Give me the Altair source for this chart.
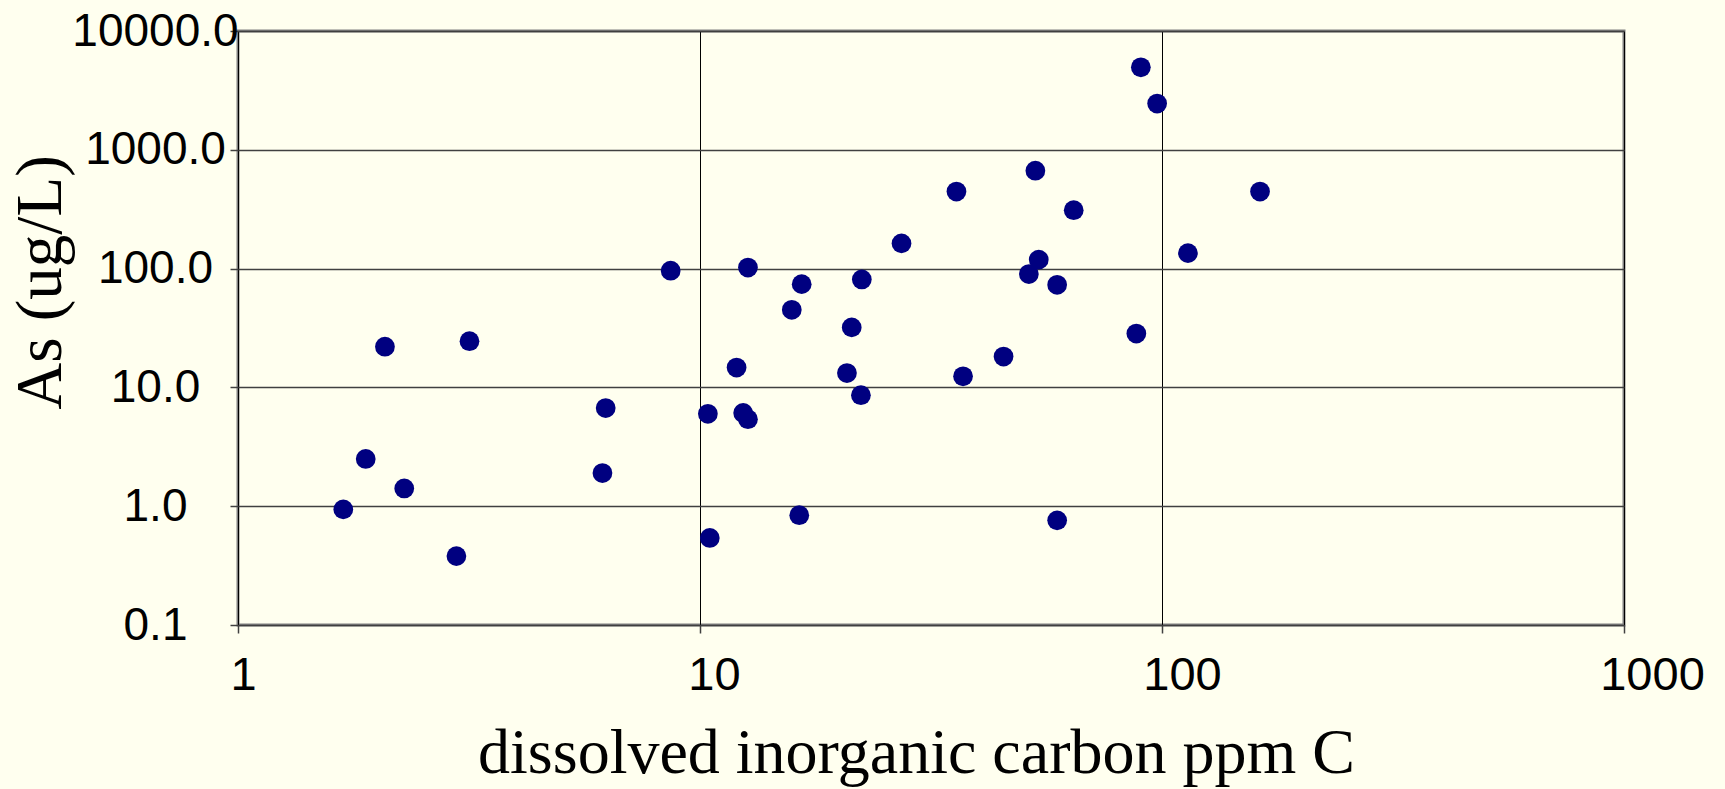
import altair as alt
import pandas as pd

dic = [1.69, 1.89, 2.08, 2.29, 2.97, 3.17, 6.15, 6.25, 8.64, 10.4, 10.5, 12.0, 12.4, 12.7,
       12.7, 15.8, 16.4, 16.6, 20.8, 21.3, 22.3, 22.4, 27.3, 35.9, 37.1, 45.4, 51.5, 53.2,
       54.1, 59.3, 59.3, 64.4, 88.0, 90.0, 97.6, 113.8, 163.0]
arsenic = [0.94, 2.5, 22, 1.41, 0.38, 24.5, 1.9, 6.7, 96, 6.0, 0.54, 14.7, 6.1, 5.4,
           102, 45, 0.84, 74, 13.2, 32, 8.6, 81, 163, 445, 12.4, 18.2, 90, 667,
           119, 0.76, 73, 310, 28.4, 4950, 2450, 135, 445]

x_ticks = [1, 10, 100, 1000]
y_ticks = [0.1, 1, 10, 100, 1000, 10000]

df = pd.DataFrame({"dic": dic, "as": arsenic})

x_label_offset = {
    "condition": [
        {"test": "datum.value == 1", "value": 5},
        {"test": "datum.value == 10", "value": 14},
        {"test": "datum.value == 100", "value": 20},
    ],
    "value": 28,
}

chart = alt.Chart(df).mark_circle(size=390, color="#000080", opacity=1).encode(
    x=alt.X("dic:Q",
            scale=alt.Scale(type="log", domain=[1, 1000], nice=False),
            axis=alt.Axis(values=x_ticks, format="d",
                          title="dissolved inorganic carbon ppm C",
                          titleFont="Liberation Serif", titleFontSize=64,
                          titleFontWeight="normal", titleColor="black",
                          titleBaseline="alphabetic", titleX=678, titleY=147,
                          labelFont="Liberation Sans", labelFontSize=47,
                          labelColor="black", labelPadding=19, labelFlush=False,
                          labelOverlap=False, labelOffset=x_label_offset,
                          tickSize=8, tickColor="#404040", tickWidth=1.5,
                          domain=False, grid=True, gridColor="#000000",
                          gridWidth=1)),
    y=alt.Y("as:Q",
            scale=alt.Scale(type="log", domain=[0.1, 10000], nice=False),
            axis=alt.Axis(values=y_ticks, format=".1f",
                          title="As (ug/L)",
                          titleFont="Liberation Serif", titleFontSize=65,
                          titleFontWeight="normal", titleColor="black",
                          titleBaseline="alphabetic", titleAngle=-90,
                          titleAlign="center", titleX=-178, titleY=251,
                          labelFont="Liberation Sans", labelFontSize=46,
                          labelColor="black", labelAlign="center",
                          labelBaseline="middle", labelPadding=75,
                          labelFlush=False, labelOverlap=False,
                          tickSize=8, tickColor="#404040", tickWidth=1.5,
                          domain=False, grid=True, gridColor="#404040",
                          gridWidth=1.5)),
).properties(
    width=1386,
    height=594,
    padding={"left": 238, "top": 31, "right": 101, "bottom": 164},
    autosize="none",
    background="#FFFFEF",
).configure_view(
    stroke="#808080", strokeWidth=3, fill="#FFFFEF"
)

chart.save("out.html", embed_options={"renderer": "svg", "actions": False})
